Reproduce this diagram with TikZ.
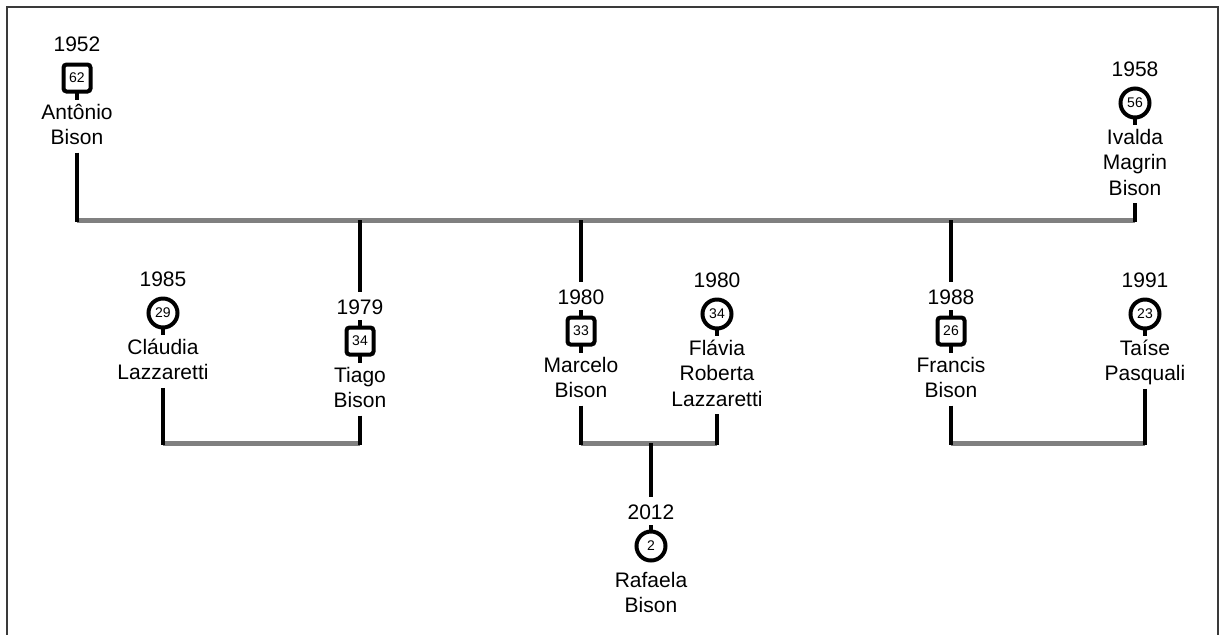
\documentclass[tikz,border=0pt]{standalone}
\usepackage{fontspec}
\setmainfont{Liberation Sans}
\usetikzlibrary{positioning}

\definecolor{bargray}{HTML}{808080}
\definecolor{framegray}{HTML}{3A3A3A}
\newcommand\namefont{\fontsize{10.5}{12.75}\selectfont}
\newcommand\agefont{\fontsize{7}{8}\selectfont}

\begin{document}
\begin{tikzpicture}[
  x=0.5pt, y=0.5pt,
  % person symbols; the age is the node text
  male/.style={
    rectangle, rounded corners=1.5pt,
    draw, line width=2pt, fill=white,
    minimum size=13.5pt, inner sep=0pt, outer sep=0pt,
    font=\agefont
  },
  female/.style={
    circle,
    draw, line width=2pt, fill=white,
    minimum size=14.5pt, inner sep=0pt, outer sep=0pt,
    font=\agefont
  },
  yr/.style={inner sep=0pt, font=\namefont},
  nm/.style={
    inner sep=0pt, align=center, font=\namefont,
    execute at begin node=\strut, execute at end node=\strut
  },
  vline/.style={line width=2.2pt, black},
  bar/.style={line width=2.5pt, bargray},
  stem/.style={line width=1.6pt, black},
]

\useasboundingbox (0,0) rectangle (1222,-634);
\draw[line width=1.2pt, framegray] (7,-7) rectangle (1218,-700);

%% ── Row 0: parents ─────────────────────────────────────────────────────────
\node[male] (antonio) at (77,-78) {62};
\node[yr, above=6.4pt of antonio] (antonio-y) {1952};
\node[nm, below=6pt of antonio] (antonio-n) {Antônio\\Bison};

\node[female] (ivalda) at (1135,-103) {56};
\node[yr, above=5.9pt of ivalda] (ivalda-y) {1958};
\node[nm, below=5.5pt of ivalda] (ivalda-n) {Ivalda\\Magrin\\Bison};

%% ── Row 1: children and their partners ─────────────────────────────────────
\node[female] (claudia) at (163,-313) {29};
\node[yr, above=5.9pt of claudia] (claudia-y) {1985};
\node[nm, below=5.5pt of claudia] (claudia-n) {Cláudia\\Lazzaretti};

\node[male] (tiago) at (360,-341) {34};
\node[yr, above=6.4pt of tiago] (tiago-y) {1979};
\node[nm, below=6pt of tiago] (tiago-n) {Tiago\\Bison};

\node[male] (marcelo) at (581,-331) {33};
\node[yr, above=6.4pt of marcelo] (marcelo-y) {1980};
\node[nm, below=6pt of marcelo] (marcelo-n) {Marcelo\\Bison};

\node[female] (flavia) at (717,-314) {34};
\node[yr, above=5.9pt of flavia] (flavia-y) {1980};
\node[nm, below=5.5pt of flavia] (flavia-n) {Flávia\\Roberta\\Lazzaretti};

\node[male] (francis) at (951,-331) {26};
\node[yr, above=6.4pt of francis] (francis-y) {1988};
\node[nm, below=6pt of francis] (francis-n) {Francis\\Bison};

\node[female] (taise) at (1145,-314) {23};
\node[yr, above=5.9pt of taise] (taise-y) {1991};
\node[nm, below=5.5pt of taise] (taise-n) {Taíse\\Pasquali};

%% ── Row 2: grandchild ──────────────────────────────────────────────────────
\node[female] (rafaela) at (651,-546) {2};
\node[yr, above=5.9pt of rafaela] (rafaela-y) {2012};
\node[nm, below=5.5pt of rafaela] (rafaela-n) {Rafaela\\Bison};

%% ── Bars ───────────────────────────────────────────────────────────────────
\coordinate (main) at (0,-220);
\coordinate (pair) at (0,-443);
\draw[bar] (antonio-n.south |- main) -- (ivalda-n.south |- main);
\draw[bar] (claudia-n.south |- pair) -- (tiago-n.south |- pair);
\draw[bar] (marcelo-n.south |- pair) -- (flavia-n.south |- pair);
\draw[bar] (francis-n.south |- pair) -- (taise-n.south |- pair);

%% ── Lines ──────────────────────────────────────────────────────────────────
\draw[vline, shorten >=-1.2pt] (antonio-n) -- (antonio-n.south |- main);
\draw[vline, shorten >=-1.2pt] (ivalda-n)  -- (ivalda-n.south |- main);
\draw[vline, shorten >=3.5pt] (tiago-y.north |- main)   -- (tiago-y);
\draw[vline, shorten >=3.5pt] (marcelo-y.north |- main) -- (marcelo-y);
\draw[vline, shorten >=3.5pt] (francis-y.north |- main) -- (francis-y);
\draw[vline, shorten >=-1.2pt] (claudia-n) -- (claudia-n.south |- pair);
\draw[vline, shorten >=-1.2pt] (tiago-n)   -- (tiago-n.south |- pair);
\draw[vline, shorten >=-1.2pt] (marcelo-n) -- (marcelo-n.south |- pair);
\draw[vline, shorten >=-1.2pt] (flavia-n)  -- (flavia-n.south |- pair);
\draw[vline, shorten >=-1.2pt] (francis-n) -- (francis-n.south |- pair);
\draw[vline, shorten >=-1.2pt] (taise-n)   -- (taise-n.south |- pair);
\draw[vline, shorten >=3.5pt] (rafaela-y.north |- pair) -- (rafaela-y);

%% ── Stems ──────────────────────────────────────────────────────────────────
\draw[stem] (antonio.south) -- ++(0,-8);
\draw[stem] (ivalda.south)  -- ++(0,-7);
\draw[stem] (claudia.south) -- ++(0,-7);
\draw[stem] (tiago.north)   -- ++(0,8);
\draw[stem] (tiago.south)   -- ++(0,-8);
\draw[stem] (marcelo.north) -- ++(0,8);
\draw[stem] (marcelo.south) -- ++(0,-8);
\draw[stem] (flavia.south)  -- ++(0,-7);
\draw[stem] (francis.north) -- ++(0,8);
\draw[stem] (francis.south) -- ++(0,-8);
\draw[stem] (taise.south)   -- ++(0,-7);
\draw[stem] (rafaela.north) -- ++(0,7);

\end{tikzpicture}
\end{document}
